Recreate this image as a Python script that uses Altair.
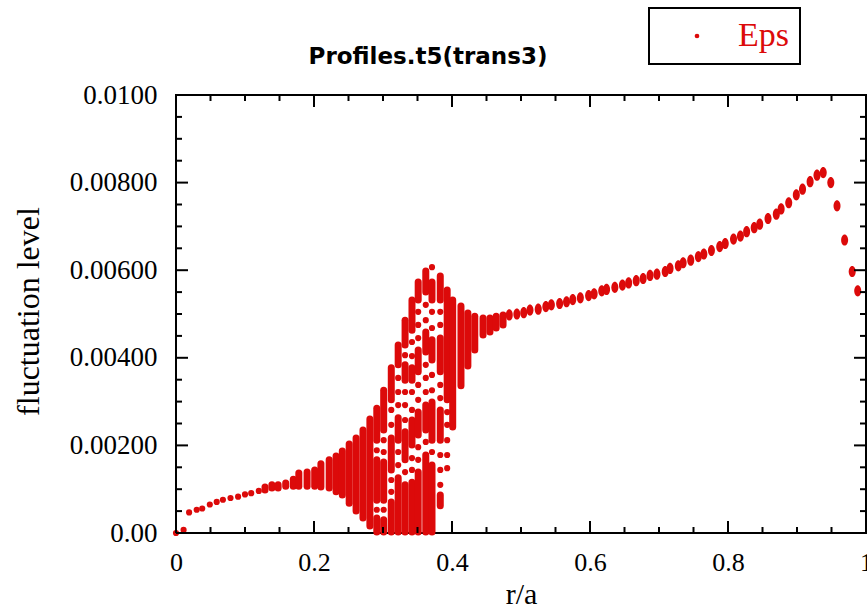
import altair as alt
import pandas as pd

RED = "#dc0a0a"

# isolated dots (r/a, fluctuation level)
dot_r = [0.000, 0.011, 0.019, 0.030, 0.038, 0.049, 0.059, 0.068, 0.079, 0.090, 0.100, 0.109, 0.120,
         0.291, 0.291,
         0.301, 0.301, 0.301,
         0.312, 0.312, 0.312, 0.312,
         0.322, 0.322, 0.322, 0.322, 0.322,
         0.332, 0.332, 0.332, 0.332, 0.332,
         0.342, 0.342, 0.342, 0.342, 0.342, 0.342,
         0.351, 0.351, 0.351, 0.351, 0.351, 0.351, 0.351,
         0.362, 0.362, 0.362, 0.362, 0.362, 0.362,
         0.371, 0.371, 0.371, 0.371, 0.371, 0.371,
         0.383, 0.383, 0.383, 0.383, 0.383, 0.383, 0.383,
         0.393, 0.393, 0.393, 0.393, 0.393]
dot_v = [0.00000, 0.00007, 0.00047, 0.00053, 0.00056, 0.00065, 0.00071, 0.00076, 0.00080, 0.00083, 0.00088, 0.00091, 0.00096,
         0.00189, 0.00053,
         0.00212, 0.00185, 0.00053,
         0.00281, 0.00247, 0.00121, 0.00094,
         0.00354, 0.00322, 0.00292, 0.00185, 0.00155,
         0.00406, 0.00322, 0.00292, 0.00258, 0.00139,
         0.00436, 0.00404, 0.00322, 0.00281, 0.00171, 0.00144,
         0.00505, 0.00475, 0.00445, 0.00338, 0.00304, 0.00196, 0.00167,
         0.00521, 0.00486, 0.00384, 0.00354, 0.00322, 0.00208,
         0.00607, 0.00505, 0.00468, 0.00361, 0.00326, 0.00185,
         0.00505, 0.00475, 0.00338, 0.00308, 0.00178, 0.00144, 0.00110,
         0.00276, 0.00247, 0.00212, 0.00178, 0.00148]

# dense vertical runs of points (r/a, lowest, highest)
seg_r = [0.129, 0.139, 0.148, 0.159, 0.170, 0.178, 0.190, 0.201, 0.210, 0.222, 0.232, 0.241, 0.251, 0.261, 0.271, 0.281,
         0.291, 0.291, 0.291,
         0.301, 0.301, 0.301,
         0.312, 0.312, 0.312,
         0.322, 0.322, 0.322,
         0.332, 0.332, 0.332, 0.332,
         0.342, 0.342, 0.342, 0.342,
         0.351, 0.351, 0.351, 0.351,
         0.362, 0.362, 0.362, 0.362,
         0.371, 0.371, 0.371, 0.371,
         0.383, 0.383, 0.383, 0.383,
         0.393, 0.401, 0.413, 0.423, 0.433, 0.445, 0.455, 0.464, 0.474]
seg_lo = [0.00098, 0.00103, 0.00103, 0.00107, 0.00107, 0.00107, 0.00107, 0.00107, 0.00105, 0.00103, 0.00094, 0.00087, 0.00068, 0.00050, 0.00034, 0.00016,
          0.00212, 0.00075, 0.00002,
          0.00235, 0.00075, 0.00002,
          0.00304, 0.00144, 0.00002,
          0.00384, 0.00212, 0.00002,
          0.00429, 0.00349, 0.00167, 0.00002,
          0.00463, 0.00349, 0.00201, 0.00002,
          0.00532, 0.00368, 0.00224, 0.00002,
          0.00550, 0.00413, 0.00235, 0.00002,
          0.00532, 0.00395, 0.00212, 0.00002,
          0.00532, 0.00368, 0.00212, 0.00062,
          0.00304, 0.00242, 0.00336, 0.00381, 0.00418, 0.00452, 0.00459, 0.00468, 0.00475]
seg_hi = [0.00105, 0.00110, 0.00110, 0.00114, 0.00123, 0.00137, 0.00139, 0.00144, 0.00158, 0.00167, 0.00176, 0.00187, 0.00203, 0.00217, 0.00235, 0.00260,
          0.00285, 0.00167, 0.00034,
          0.00326, 0.00162, 0.00030,
          0.00377, 0.00217, 0.00071,
          0.00429, 0.00263, 0.00126,
          0.00486, 0.00384, 0.00231, 0.00110,
          0.00532, 0.00377, 0.00258, 0.00116,
          0.00573, 0.00418, 0.00276, 0.00139,
          0.00598, 0.00459, 0.00292, 0.00178,
          0.00573, 0.00441, 0.00299, 0.00155,
          0.00587, 0.00445, 0.00281, 0.00087,
          0.00555, 0.00532, 0.00518, 0.00502, 0.00495, 0.00491, 0.00491, 0.00495, 0.00498]

# outer region, small pairs of points
smooth_r = [0.483, 0.494, 0.504, 0.513, 0.525, 0.536, 0.544, 0.556, 0.566, 0.575, 0.586, 0.598, 0.606, 0.617,
            0.624, 0.636, 0.647, 0.656, 0.667, 0.677, 0.687, 0.697, 0.709, 0.716, 0.728, 0.735, 0.746, 0.757,
            0.765, 0.776, 0.788, 0.796, 0.808, 0.818, 0.827, 0.838, 0.846, 0.858, 0.870, 0.877, 0.888, 0.899,
            0.908, 0.919, 0.929, 0.938, 0.949, 0.958, 0.969, 0.980, 0.988]
smooth_v = [0.00498, 0.00500, 0.00503, 0.00509, 0.00511, 0.00517, 0.00521, 0.00524, 0.00528, 0.00533, 0.00537, 0.00542, 0.00546, 0.00553,
            0.00556, 0.00561, 0.00566, 0.00571, 0.00576, 0.00581, 0.00588, 0.00591, 0.00597, 0.00604, 0.00610, 0.00617, 0.00623, 0.00631,
            0.00637, 0.00645, 0.00654, 0.00661, 0.00671, 0.00678, 0.00688, 0.00697, 0.00705, 0.00718, 0.00728, 0.00740, 0.00754, 0.00772,
            0.00785, 0.00802, 0.00817, 0.00823, 0.00800, 0.00747, 0.00669, 0.00597, 0.00553]

x_major = [0, 0.2, 0.4, 0.6, 0.8, 1.0]
x_minor = [0.05, 0.1, 0.15, 0.25, 0.3, 0.35, 0.45, 0.5, 0.55, 0.65, 0.7, 0.75, 0.85, 0.9, 0.95]
y_major = [0, 0.002, 0.004, 0.006, 0.008, 0.01]
y_minor = [0.0005, 0.001, 0.0015, 0.0025, 0.003, 0.0035, 0.0045, 0.005, 0.0055,
           0.0065, 0.007, 0.0075, 0.0085, 0.009, 0.0095]

chart_title = ["Profiles.t5(trans3)"]

W, H = 690, 438
SERIF = "Liberation Serif"

xs = alt.Scale(domain=[0, 1], nice=False, zero=False)
ys = alt.Scale(domain=[0, 0.01], nice=False, zero=False)

dots_df = pd.DataFrame({"r": dot_r, "v": dot_v, "series": ["Eps"] * len(dot_r)})
seg_df = pd.DataFrame({"r": seg_r, "lo": seg_lo, "hi": seg_hi})
smooth_df = pd.DataFrame({"r": smooth_r, "v": smooth_v})

xaxis = alt.Axis(values=x_major, format="~g", title="r/a", ticks=False, tickSize=0, domain=False,
                 grid=False, labelFont=SERIF, labelFontSize=26, labelColor="black", labelPadding=16,
                 labelFlush=False, labelOverlap=False,
                 titleFont=SERIF, titleFontSize=30, titleFontWeight="normal", titleColor="black",
                 titleY=70, titleBaseline="alphabetic")
yaxis = alt.Axis(values=y_major, title="fluctuation level", ticks=False, tickSize=0, domain=False,
                 grid=False, labelFont=SERIF, labelFontSize=27, labelColor="black", labelPadding=19,
                 labelFlush=False, labelOverlap=False,
                 labelExpr="datum.value == 0 ? '0.00' : (datum.value > 0.0099 ? '0.0100' : format(datum.value, '.5f'))",
                 titleFont=SERIF, titleFontSize=32, titleFontWeight="normal", titleColor="black",
                 titleAngle=-90, titleX=-148, titleY=216, titleAlign="center", titleBaseline="middle")

segs = alt.Chart(seg_df).mark_rule(color=RED, strokeWidth=7, strokeCap="round").encode(
    x=alt.X("r:Q", scale=xs, axis=xaxis),
    y=alt.Y("lo:Q", scale=ys, axis=yaxis),
    y2="hi:Q",
)

dots = alt.Chart(dots_df).mark_circle(size=38, opacity=1).encode(
    x=alt.X("r:Q", scale=xs, axis=xaxis),
    y=alt.Y("v:Q", scale=ys, axis=yaxis),
    color=alt.Color("series:N", scale=alt.Scale(domain=["Eps"], range=[RED]),
                    legend=alt.Legend(title=None, orient="none", legendX=473, legendY=-87,
                                      padding=11, strokeColor="black",
                                      symbolSize=22, symbolType="circle", symbolOffset=20,
                                      labelOffset=24, labelFont=SERIF, labelFontSize=34,
                                      labelColor=RED)),
)

ellipse = "M0,-1.6A1,1.6 0 1,1 0,1.6A1,1.6 0 1,1 0,-1.6Z"
smooth = alt.Chart(smooth_df).mark_point(shape=ellipse, filled=True, size=49, opacity=1, color=RED).encode(
    x=alt.X("r:Q", scale=xs, axis=xaxis),
    y=alt.Y("v:Q", scale=ys, axis=yaxis),
)

def xticks(vals, length):
    df = pd.DataFrame({"t": vals})
    bottom = alt.Chart(df).mark_rule(color="black", strokeWidth=2).encode(
        x=alt.X("t:Q", scale=xs, axis=xaxis), y=alt.value(H), y2=alt.value(H - length))
    top = alt.Chart(df).mark_rule(color="black", strokeWidth=2).encode(
        x=alt.X("t:Q", scale=xs, axis=xaxis), y=alt.value(0), y2=alt.value(length))
    return [bottom, top]

def yticks(vals, length):
    df = pd.DataFrame({"t": vals})
    left = alt.Chart(df).mark_rule(color="black", strokeWidth=2).encode(
        y=alt.Y("t:Q", scale=ys, axis=yaxis), x=alt.value(0), x2=alt.value(length))
    right = alt.Chart(df).mark_rule(color="black", strokeWidth=2).encode(
        y=alt.Y("t:Q", scale=ys, axis=yaxis), x=alt.value(W), x2=alt.value(W - length))
    return [left, right]

title_df = pd.DataFrame({"label": chart_title})
title = alt.Chart(title_df).mark_text(font="DejaVu Sans", fontWeight="bold", fontSize=23,
                                      align="center", baseline="alphabetic", color="black").encode(
    x=alt.value(252), y=alt.value(-31), text="label:N")

layers = [segs, dots, smooth] + xticks(x_major, 12) + xticks(x_minor, 6) + yticks(y_major, 12) + yticks(y_minor, 6) + [title]

chart = alt.layer(*layers).properties(
    width=W, height=H,
    autosize=alt.AutoSizeParams(type="none"),
    padding={"left": 176, "top": 95, "right": 1, "bottom": 77},
).configure_view(stroke="black", strokeWidth=2).configure_legend(strokeWidth=2)

chart.save("out.html", embed_options={"renderer": "svg", "actions": False})
